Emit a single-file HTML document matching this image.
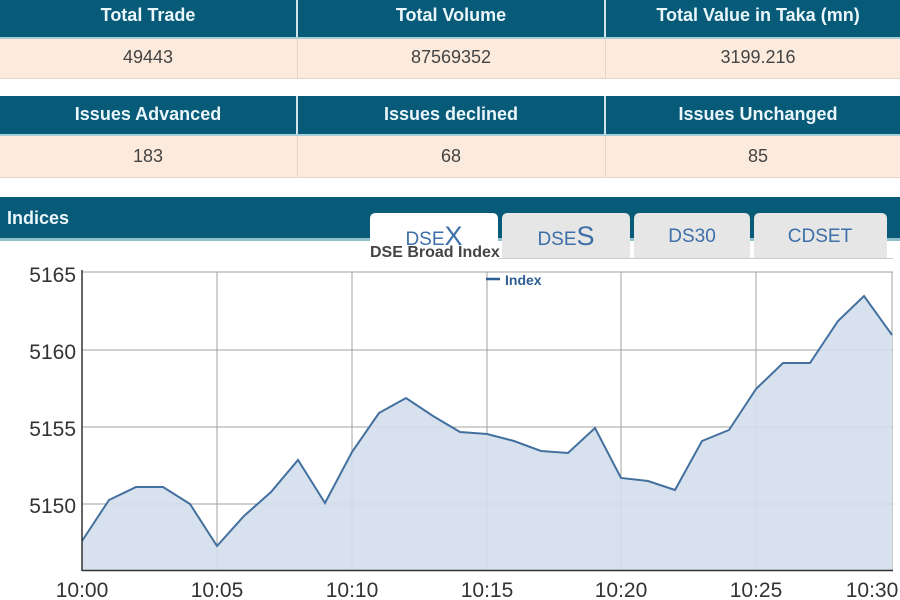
<!DOCTYPE html>
<html><head><meta charset="utf-8"><style>
body{margin:0;width:900px;height:600px;overflow:hidden;background:#fff;font-family:"Liberation Sans",Arial,sans-serif;position:relative}
.a{position:absolute}
.h{background:#075a78;color:#eaf6fa;font-weight:bold;font-size:18px;text-align:center;line-height:36px;height:36px;letter-spacing:-0.3px}
.v{background:#fcebdc;color:#444;font-size:18px;text-align:center;line-height:38px;height:38px}
</style></head><body>
<svg class="a" style="left:0;top:0" width="900" height="600" xmlns="http://www.w3.org/2000/svg" font-family="Liberation Sans, Arial, sans-serif">
<!-- row 1 -->
<rect x="0" y="0" width="900" height="37" fill="#075a78"/>
<rect x="0" y="37" width="900" height="2" fill="#a7cfd8"/>
<rect x="0" y="39" width="900" height="39" fill="#fcebdc"/>
<rect x="0" y="78" width="900" height="1" fill="#e4d5c8"/>
<rect x="0" y="96" width="900" height="38" fill="#075a78"/>
<rect x="0" y="134" width="900" height="2" fill="#a7cfd8"/>
<rect x="0" y="136" width="900" height="41" fill="#fcebdc"/>
<rect x="0" y="177" width="900" height="1" fill="#e4d5c8"/>
<g fill="#cfe4ea"><rect x="296" y="0" width="2" height="37"/><rect x="604" y="0" width="2" height="37"/><rect x="296" y="96" width="2" height="38"/><rect x="604" y="96" width="2" height="38"/></g>
<g fill="#e4d5c8"><rect x="297" y="39" width="1" height="39"/><rect x="605" y="39" width="1" height="39"/><rect x="297" y="136" width="1" height="41"/><rect x="605" y="136" width="1" height="41"/></g>
<g fill="#eaf6fa" font-weight="bold" font-size="18" text-anchor="middle">
<text x="148" y="21">Total Trade</text><text x="451" y="21">Total Volume</text><text x="758" y="21">Total Value in Taka (mn)</text>
<text x="148" y="120">Issues Advanced</text><text x="451" y="120">Issues declined</text><text x="758" y="120">Issues Unchanged</text>
</g>
<g fill="#444" font-size="18" text-anchor="middle">
<text x="148" y="63">49443</text><text x="451" y="63">87569352</text><text x="758" y="63">3199.216</text>
<text x="148" y="162">183</text><text x="451" y="162">68</text><text x="758" y="162">85</text>
</g>
<!-- indices bar -->
<rect x="0" y="197" width="900" height="41" fill="#075a78"/>
<rect x="0" y="238" width="900" height="3" fill="#8fc0cc"/>
<text x="7" y="224" fill="#eaf6fa" font-weight="bold" font-size="18">Indices</text>
<!-- tabs -->
<path d="M370 258 V219 Q370 213 376 213 H492 Q498 213 498 219 V258Z" fill="#fff"/>
<path d="M502 258 V219 Q502 213 508 213 H624 Q630 213 630 219 V258Z" fill="#e6e6e6"/>
<path d="M634 258 V219 Q634 213 640 213 H744 Q750 213 750 219 V258Z" fill="#e6e6e6"/>
<path d="M754 258 V219 Q754 213 760 213 H881 Q887 213 887 219 V258Z" fill="#e6e6e6"/>
<rect x="498" y="258" width="395" height="1" fill="#ccc"/>
<g fill="#3d6fa8" font-size="19" text-anchor="middle">
<text x="434" y="245">DSE<tspan font-size="27">X</tspan></text>
<text x="566" y="245">DSE<tspan font-size="27">S</tspan></text>
<text x="692" y="242">DS30</text>
<text x="820" y="242">CDSET</text>
</g>
<text x="370" y="257" fill="#444" font-weight="bold" font-size="16">DSE Broad Index</text>
<!-- chart grid -->
<g stroke="#a0a0a0" stroke-width="1">
<line x1="82" y1="272" x2="893" y2="272"/><line x1="82" y1="350" x2="893" y2="350"/><line x1="82" y1="427" x2="893" y2="427"/><line x1="82" y1="504" x2="893" y2="504"/>
<line x1="217" y1="272" x2="217" y2="571"/><line x1="352" y1="272" x2="352" y2="571"/><line x1="487" y1="272" x2="487" y2="571"/><line x1="621" y1="272" x2="621" y2="571"/><line x1="756" y1="272" x2="756" y2="571"/><line x1="892" y1="272" x2="892" y2="571"/>
</g>
<polygon fill="#d4dfec" fill-opacity="0.9" points="82,570 82,541 109,500 136,487 163,487 190,504 217,546 244,516 271,492 298,460 325,503 352,452 379,413 406,398 433,416 460,432 487,434 514,441 541,451 568,453 595,428 621,478 648,481 675,490 702,441 729,430 756,389 783,363 810,363 838,321 864,296 892,335 892,570"/>
<polyline fill="none" stroke="#43709f" stroke-width="2" points="82,541 109,500 136,487 163,487 190,504 217,546 244,516 271,492 298,460 325,503 352,452 379,413 406,398 433,416 460,432 487,434 514,441 541,451 568,453 595,428 621,478 648,481 675,490 702,441 729,430 756,389 783,363 810,363 838,321 864,296 892,335"/>
<line x1="82" y1="270" x2="82" y2="571" stroke="#333" stroke-width="1.5"/>
<line x1="82" y1="570.5" x2="893" y2="570.5" stroke="#333" stroke-width="1.5"/>
<line x1="486" y1="279" x2="500" y2="279" stroke="#2e5d91" stroke-width="2.5"/>
<text x="505" y="285" fill="#2e5d91" font-weight="bold" font-size="14">Index</text>
<g fill="#333" font-size="21" text-anchor="end">
<text x="76" y="282">5165</text><text x="76" y="359">5160</text><text x="76" y="436">5155</text><text x="76" y="513">5150</text>
</g>
<g fill="#333" font-size="21" text-anchor="middle">
<text x="82" y="597">10:00</text><text x="217" y="597">10:05</text><text x="352" y="597">10:10</text><text x="487" y="597">10:15</text><text x="621" y="597">10:20</text><text x="756" y="597">10:25</text><text x="872" y="597">10:30</text>
</g>
</svg>
</body></html>
